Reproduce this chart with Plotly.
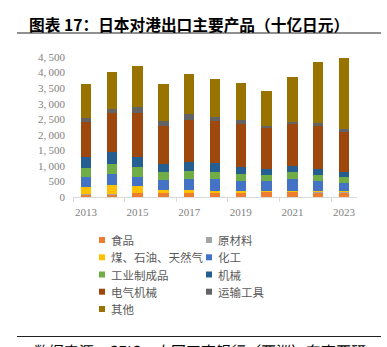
import plotly.graph_objects as go

years = [2013, 2014, 2015, 2016, 2017, 2018, 2019, 2020, 2021, 2022, 2023]
series_names = ["食品", "原材料", "煤、石油、天然气", "化工", "工业制成品",
                "机械", "电气机械", "运输工具", "其他"]
food = [75, 65, 129, 129, 129, 129, 129, 172, 172, 151, 151]
raw_materials = [22, 32, 11, 11, 11, 21, 21, 11, 11, 21, 21]
fuel = [215, 301, 205, 75, 75, 55, 33, 11, 11, 33, 22]
chemicals = [323, 334, 312, 345, 356, 366, 334, 323, 377, 301, 258]
manufactured = [313, 313, 301, 248, 258, 247, 226, 194, 226, 194, 194]
machinery = [323, 398, 334, 237, 291, 281, 226, 194, 215, 194, 172]
electrical = [1141, 1249, 1400, 1249, 1368, 1335, 1390, 1314, 1336, 1389, 1271]
transport = [130, 130, 205, 161, 172, 151, 129, 75, 75, 87, 97]
other = [1088, 1184, 1303, 1175, 1282, 1206, 1163, 1099, 1443, 1960, 2284]
series_values = [food, raw_materials, fuel, chemicals, manufactured,
                 machinery, electrical, transport, other]
colors = ["#ED7D31", "#A5A5A5", "#FFC000", "#4472C4", "#70AD47",
          "#255E91", "#9E480E", "#636363", "#997300"]
x_tick_years = [2013, 2015, 2017, 2019, 2021, 2023]
y_tick_vals = [0, 500, 1000, 1500, 2000, 2500, 3000, 3500, 4000, 4500]
y_tick_text = ["0", "500", "1,\u2009000", "1,\u2009500", "2,\u2009000", "2,\u2009500",
               "3,\u2009000", "3,\u2009500", "4,\u2009000", "4,\u2009500"]
title_text = "图表 17：日本对港出口主要产品（十亿日元）"
source_text = "数据来源：CEIC，中国工商银行（亚洲）东南亚研"

W, H = 387, 347
ML, MR, MT, MB = 73, 30, 57, 150
PW, PH = W - ML - MR, H - MT - MB

def px(x):
    return (x - ML) / PW

def py(y):
    return (H - MB - y) / PH

fig = go.Figure()
for name, vals, c in zip(series_names, series_values, colors):
    fig.add_trace(go.Bar(x=years, y=vals, name=name, marker_color=c,
                         marker_line_width=0, width=0.4, showlegend=False))

fig.update_layout(
    barmode="stack",
    width=W, height=H,
    margin=dict(l=ML, r=MR, t=MT, b=MB),
    paper_bgcolor="white", plot_bgcolor="white",
    showlegend=False,
    xaxis=dict(range=[2012.5, 2023.5], tickmode="array", tickvals=x_tick_years,
               ticktext=[str(y) for y in x_tick_years], ticks="",
               showline=True, linecolor="#d9d9d9", linewidth=1,
               showgrid=False, zeroline=False,
               tickfont=dict(family="Liberation Serif", size=11, color="#7f7f7f"),
               ticklabelstandoff=5,
               minor=dict(tickmode="linear", tick0=2012.5, dtick=2, ticks="outside",
                          ticklen=4, tickcolor="#d9d9d9", showgrid=False)),
    yaxis=dict(range=[0, 4500], tickmode="array", tickvals=y_tick_vals,
               ticktext=y_tick_text, showgrid=False, zeroline=False,
               showline=False, ticks="",
               tickfont=dict(family="Liberation Serif", size=11, color="#7f7f7f"),
               ticklabelstandoff=7),
)

# title and rules
fig.add_annotation(text="<b>" + title_text + "</b>", xref="paper", yref="paper",
                   x=px(27), y=py(24.5), xanchor="left", yanchor="middle",
                   showarrow=False,
                   font=dict(family="Noto Sans CJK SC", size=15.7, color="#000000"))
fig.add_shape(type="line", xref="paper", yref="paper", x0=px(17), x1=px(381),
              y0=py(33), y1=py(33), line=dict(color="#222222", width=1))
fig.add_shape(type="line", xref="paper", yref="paper", x0=px(17), x1=px(381),
              y0=py(336.5), y1=py(336.5), line=dict(color="#222222", width=1))
fig.add_annotation(text=source_text, xref="paper", yref="paper",
                   x=px(29), y=py(337.5), xanchor="left", yanchor="top",
                   showarrow=False,
                   font=dict(family="Noto Sans CJK SC", size=15, color="#000000",
                             style="italic"))

# legend (two columns, row-major)
col_x = [99, 206]
row_y = [240, 257.3, 274.5, 291.7, 309]
for i, (name, c) in enumerate(zip(series_names, colors)):
    r, col = divmod(i, 2)
    x0, yc = col_x[col], row_y[r]
    fig.add_shape(type="rect", xref="paper", yref="paper",
                  x0=px(x0), x1=px(x0 + 6), y0=py(yc - 3), y1=py(yc + 3),
                  fillcolor=c, line=dict(width=0))
    fig.add_annotation(text=name, xref="paper", yref="paper",
                       x=px(x0 + 10), y=py(yc), xanchor="left", yanchor="middle",
                       showarrow=False,
                       font=dict(family="Noto Sans CJK SC", size=11.5, color="#595959"))

fig.write_html("out.html")
